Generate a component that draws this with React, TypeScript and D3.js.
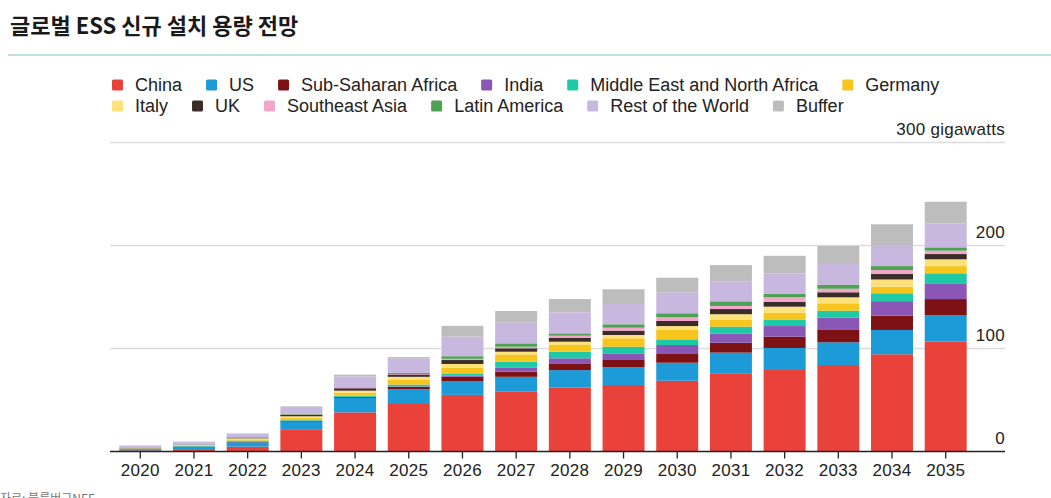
import { useEffect, useRef } from "react"
import * as d3 from "d3"

const years = ["2020", "2021", "2022", "2023", "2024", "2025", "2026", "2027", "2028", "2029", "2030", "2031", "2032", "2033", "2034", "2035"]

const regions = [
  "China",
  "US",
  "Sub-Saharan Africa",
  "India",
  "Middle East and North Africa",
  "Germany",
  "Italy",
  "UK",
  "Southeast Asia",
  "Latin America",
  "Rest of the World",
  "Buffer",
]

const colors = ["#e8423a", "#1d9ad8", "#7c1214", "#8b57b6", "#1ec9a5", "#f8c51f", "#fde27b", "#3b2b29", "#f1a7cb", "#4fa153", "#c8b7df", "#bdbdbd"]

// gigawatts per year, one array per region (bottom to top of the stack)
const china = [1, 1.5, 4.7, 21, 38, 47, 55, 58, 62, 64.6, 68.7, 76, 80, 84, 94.4, 106.6]
const us = [1, 3, 4.3, 8, 14, 13.5, 13, 14.5, 17, 17.1, 17.5, 20, 20.5, 22, 23.6, 25.9]
const subSaharan = [0.3, 0.3, 0.3, 0.6, 0.8, 2.2, 4.5, 5, 6, 7.8, 9.1, 9.6, 11, 12.6, 13.8, 15.5]
const india = [0, 0, 0.1, 0.3, 0.3, 0.5, 1, 4.2, 5.5, 5.8, 8.1, 9, 10.3, 11.4, 14.2, 15.3]
const mena = [0.2, 0.8, 1.2, 0.6, 1, 1.8, 2.3, 5.5, 6.4, 6.4, 5.5, 6.6, 5.9, 6.7, 7.6, 9.7]
const germany = [0.3, 0.5, 1.2, 2.2, 3, 4.5, 5.5, 6.5, 6.5, 8.2, 9.1, 6.5, 7.1, 7.2, 6.4, 7]
const italy = [0.2, 0.3, 1, 1.5, 2, 3, 3.7, 3.2, 3.2, 3.2, 3.8, 5.6, 5.8, 5.8, 7, 6.6]
const uk = [0.3, 0.3, 0.6, 1.5, 2.3, 2.3, 3.8, 3.3, 3.9, 4.2, 4.9, 5, 4.8, 4.9, 5.3, 5.1]
const southeastAsia = [0, 0, 0.2, 0.3, 0.3, 0.5, 1.2, 1.5, 1.9, 2.9, 3.6, 3, 4.3, 3.4, 3.9, 3.3]
const latinAmerica = [0, 0.2, 0.4, 0.5, 0.5, 1.2, 2.5, 3.3, 2.3, 3.3, 3.9, 4.5, 3.3, 4, 3.8, 3.2]
const restOfWorld = [2, 2.2, 3, 7, 10.5, 14, 19, 20.4, 20.4, 19.7, 20, 19.5, 20, 20, 20.5, 23.3]
const buffer = [0.5, 0.5, 0.5, 0.5, 2, 1.2, 10.5, 11, 12.9, 14.3, 14.5, 15.7, 17, 17.5, 20.1, 21]

const seriesValues = [china, us, subSaharan, india, mena, germany, italy, uk, southeastAsia, latinAmerica, restOfWorld, buffer]

const yTicks = [0, 100, 200, 300]
const legendRows = [6, 6]

const W = 1051
const H = 498
const FONT = "'Liberation Sans', Arial, Helvetica, sans-serif"

export default function App() {
  const svgRef = useRef<SVGSVGElement>(null)

  useEffect(() => {
    if (!svgRef.current) return
    const svg = d3.select(svgRef.current)
    svg.selectAll("*").remove()

    const left = 110
    const right = 1005
    const y = d3.scaleLinear().domain([0, 300]).range([451.5, 142.5])
    const x = d3.scaleBand<string>().domain(years).range([left, 976]).paddingInner(0.218).paddingOuter(0.173)

    // title
    svg
      .append("text")
      .attr("x", 10)
      .attr("y", 34)
      .style("font-family", "'Noto Sans CJK KR', sans-serif")
      .style("font-weight", "bold")
      .style("font-size", "22px")
      .style("fill", "#1a1a1a")
      .text("글로벌 ESS 신규 설치 용량 전망")

    svg.append("line").attr("x1", 8).attr("x2", W).attr("y1", 55).attr("y2", 55).attr("stroke", "#a9d6d6").attr("stroke-width", 1.5)

    // legend, flowed left to right
    let idx = 0
    legendRows.forEach((count, row) => {
      let cx = 112
      const cy = 85 + row * 21
      for (let k = 0; k < count; k++, idx++) {
        const g = svg.append("g")
        g.append("rect").attr("x", cx).attr("y", cy - 5.5).attr("width", 11).attr("height", 11).attr("rx", 1.5).attr("fill", colors[idx])
        const t = g
          .append("text")
          .attr("x", cx + 23)
          .attr("y", cy)
          .attr("dy", "0.35em")
          .style("font-family", FONT)
          .style("font-size", "18px")
          .style("fill", "#222")
          .text(regions[idx])
        const w = (t.node() as SVGTextElement).getComputedTextLength()
        cx += 23 + w + 24
      }
    })

    // gridlines + labels
    yTicks.forEach((v) => {
      if (v > 0) {
        svg.append("line").attr("x1", left).attr("x2", right).attr("y1", y(v)).attr("y2", y(v)).attr("stroke", "#dcdcdc").attr("stroke-width", 1.5)
      }
      svg
        .append("text")
        .attr("x", right)
        .attr("y", y(v) - 13)
        .attr("dy", "0.35em")
        .attr("text-anchor", "end")
        .style("font-family", FONT)
        .style("font-size", "17px")
        .style("letter-spacing", "0.3px")
        .style("fill", "#222")
        .text(v === 300 ? "300 gigawatts" : String(v))
    })

    // stacked bars
    const table = years.map((yr, i) => {
      const row: Record<string, number | string> = { year: yr }
      regions.forEach((r, j) => (row[r] = seriesValues[j][i]))
      return row
    })
    const stack = d3.stack<Record<string, number | string>>().keys(regions)
    const layers = stack(table as any)

    svg
      .append("g")
      .selectAll("g")
      .data(layers)
      .enter()
      .append("g")
      .attr("fill", (_, i) => colors[i])
      .selectAll("rect")
      .data((d) => d)
      .enter()
      .append("rect")
      .attr("x", (d) => x(String(d.data.year))!)
      .attr("width", x.bandwidth())
      .attr("y", (d) => y(d[1]))
      .attr("height", (d) => Math.max(0, y(d[0]) - y(d[1])))

    // baseline + ticks
    svg.append("line").attr("x1", left).attr("x2", right).attr("y1", y(0)).attr("y2", y(0)).attr("stroke", "#222").attr("stroke-width", 1.6)

    const ax = svg.append("g")
    years.forEach((yr) => {
      const c = x(yr)! + x.bandwidth() / 2
      ax.append("line").attr("x1", c).attr("x2", c).attr("y1", y(0)).attr("y2", y(0) + 7).attr("stroke", "#222").attr("stroke-width", 1.3)
      ax.append("text")
        .attr("x", c)
        .attr("y", 470)
        .attr("dy", "0.35em")
        .attr("text-anchor", "middle")
        .style("font-family", FONT)
        .style("font-size", "17px")
        .style("letter-spacing", "0.3px")
        .style("fill", "#222")
        .text(yr)
    })

    // source line, cut off at the bottom edge as in the original
    svg
      .append("text")
      .attr("x", 0)
      .attr("y", 503)
      .style("font-family", "'Noto Sans CJK KR', sans-serif")
      .style("font-size", "12px")
      .style("fill", "#777")
      .text("자료: 블룸버그NEF")
  }, [])

  return (
    <div style={{ position: "absolute", left: 0, top: 0, width: W, height: H, background: "#fff" }}>
      <svg ref={svgRef} width={W} height={H}></svg>
    </div>
  )
}
